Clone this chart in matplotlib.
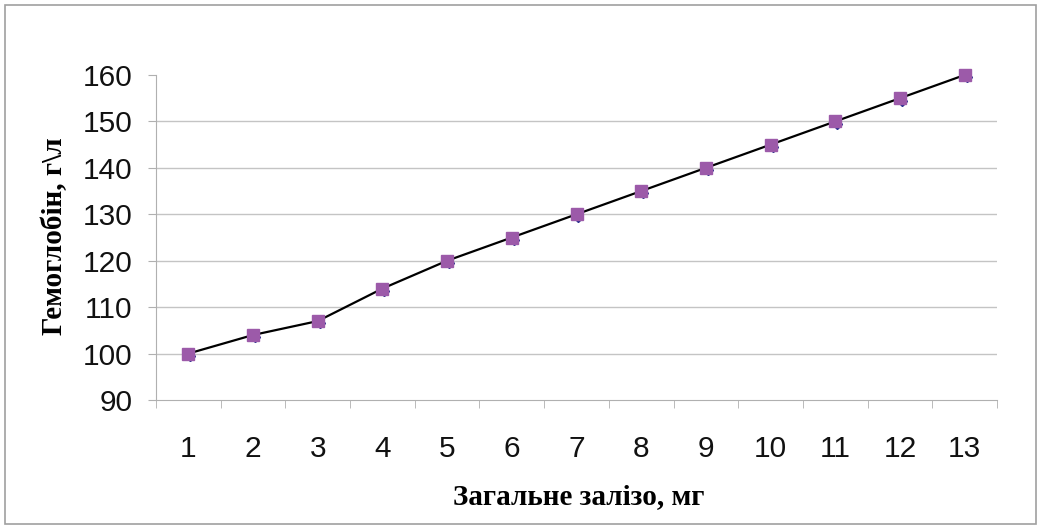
import numpy as np
import matplotlib.pyplot as plt
from matplotlib.patches import Rectangle
from matplotlib.ticker import FixedLocator

categories = ["1", "2", "3", "4", "5", "6", "7", "8", "9", "10", "11", "12", "13"]
hemoglobin = [100, 104, 107, 114, 120, 125, 130, 135, 140, 145, 150, 155, 160]
yticks = [90, 100, 110, 120, 130, 140, 150, 160]

fig = plt.figure(figsize=(10.45, 5.29), dpi=100)
ax = fig.add_axes([156 / 1045, 1 - 400 / 529, (997 - 156) / 1045, (400 - 75) / 529])

x = np.arange(len(categories))
ax.plot(x, hemoglobin, color="black", lw=1.6, zorder=3, clip_on=False)
ax.plot(x + 0.03, np.array(hemoglobin) - 0.5, ls="none", marker="D", ms=5, color="#2b2f8f",
        zorder=4, clip_on=False)
ax.plot(x, hemoglobin, ls="none", marker="s", ms=8, color="#9c5aa9", mec="#9c5aa9",
        zorder=5, clip_on=False)

ax.set_xlim(-0.5, len(categories) - 0.5)
ax.set_ylim(90, 160)

# gridlines only for the inner values, top one left open
for v in yticks[1:-1]:
    ax.axhline(v, color="#c4c4c4", lw=1, zorder=1)

ax.set_xticks(x)
ax.set_xticklabels(categories)
ax.xaxis.set_minor_locator(FixedLocator(np.arange(-0.5, len(categories), 1)))
ax.set_yticks(yticks)

for lab in ax.get_xticklabels() + ax.get_yticklabels():
    lab.set_fontfamily("Liberation Sans")
    lab.set_fontsize(21.5)
    lab.set_color("#111111")

ax.tick_params(axis="x", which="major", length=0, pad=25)
ax.tick_params(axis="x", which="minor", length=6, color="#b0b0b0", direction="out")
ax.tick_params(axis="y", length=6, color="#b0b0b0", pad=11)

for side in ["top", "right"]:
    ax.spines[side].set_visible(False)
ax.spines["left"].set_color("#b0b0b0")
ax.spines["bottom"].set_color("#b0b0b0")

fig.text(579 / 1045, 1 - 497 / 529, "Загальне залізо, мг", ha="center", va="center",
         family="Liberation Serif", weight="bold", fontsize=21)
fig.text(55 / 1045, 1 - 236 / 529, "Гемоглобін, г\\л", ha="center", va="center", rotation=90,
         family="Liberation Serif", weight="bold", fontsize=21)

fig.patches.append(Rectangle((5 / 1045, 5 / 529), 1031 / 1045, 519 / 529, transform=fig.transFigure,
                             fill=False, edgecolor="#a0a0a0", lw=1.2))

fig.savefig("out.png", dpi=100)
